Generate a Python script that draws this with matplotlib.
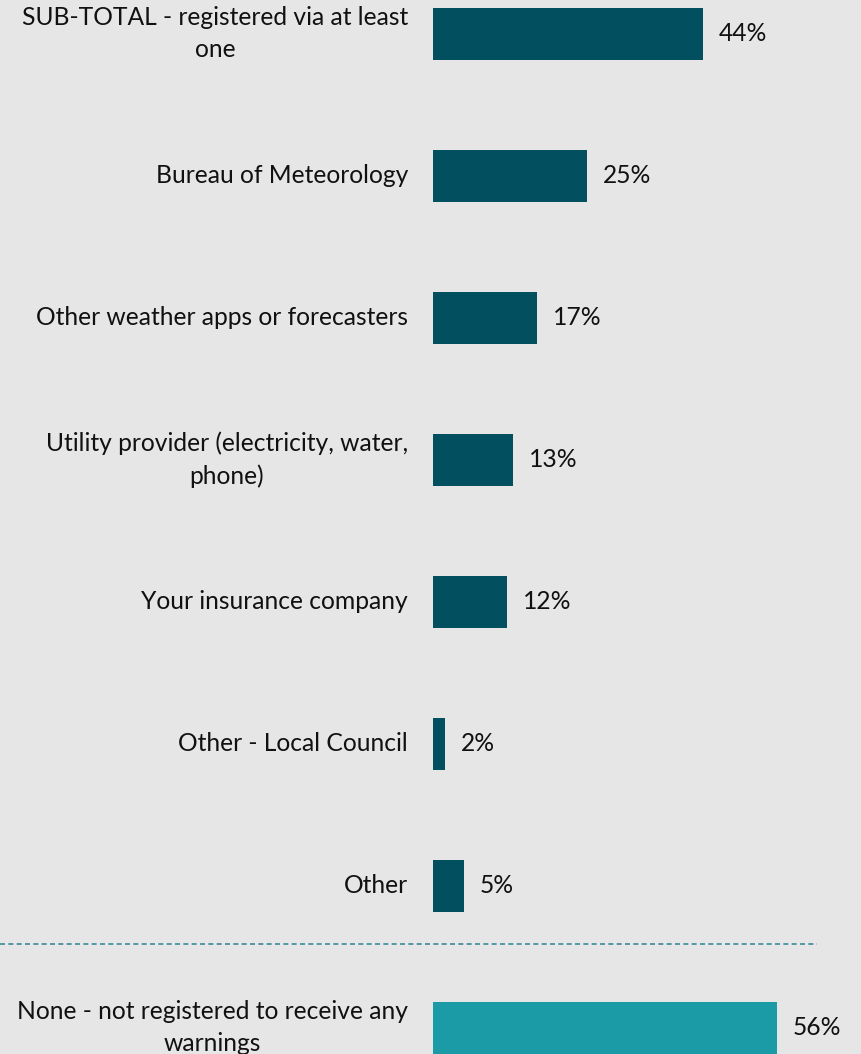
import matplotlib.pyplot as plt
from matplotlib.lines import Line2D
from matplotlib.transforms import blended_transform_factory

categories = [
    "SUB-TOTAL - registered via at least\none",
    "Bureau of Meteorology",
    "Other weather apps or forecasters",
    "Utility provider (electricity, water,\nphone)",
    "Your insurance company",
    "Other - Local Council",
    "Other",
    "None - not registered to receive any\nwarnings",
]
values = [44, 25, 17, 13, 12, 2, 5, 56]

DARK = "#02505f"
LIGHT = "#1a9ba5"
BG = "#e6e6e6"

plt.rcParams["font.family"] = ["Lato", "DejaVu Sans"]

fig = plt.figure(figsize=(8.61, 10.54), dpi=100, facecolor=BG)
ax = fig.add_axes([433 / 861, 0, 1 - 433 / 861, 1])
ax.set_facecolor(BG)

positions = list(range(len(values)))
colors = [DARK] * (len(values) - 1) + [LIGHT]
ax.barh(positions, values, height=52 / 142, color=colors)

for y, v, label in zip(positions, values, categories):
    ax.annotate(f"{v}%", xy=(v, y), xytext=(11.5, 0), textcoords="offset points",
                va="center", ha="left", fontsize=17.7, color="#111111",
                annotation_clip=False)
    ax.annotate(label, xy=(0, y), xycoords="data", xytext=(-18, 0),
                textcoords="offset points", ha="right", va="center",
                fontsize=17.7, color="#111111", multialignment="center",
                linespacing=1.47, annotation_clip=False)

ax.set_xlim(0, 428 / 6.14)
ax.set_ylim(7.185, -0.237)
ax.axis("off")

# dashed separator between the sub-groups and the "None" bar
trans = blended_transform_factory(fig.transFigure, ax.transData)
fig.add_artist(Line2D([0, 817 / 861], [6.41, 6.41], transform=trans,
                      color="#3a8b9c", linestyle=(0, (3, 2)), linewidth=1.2))

fig.savefig("out.png", dpi=100, facecolor=BG)
